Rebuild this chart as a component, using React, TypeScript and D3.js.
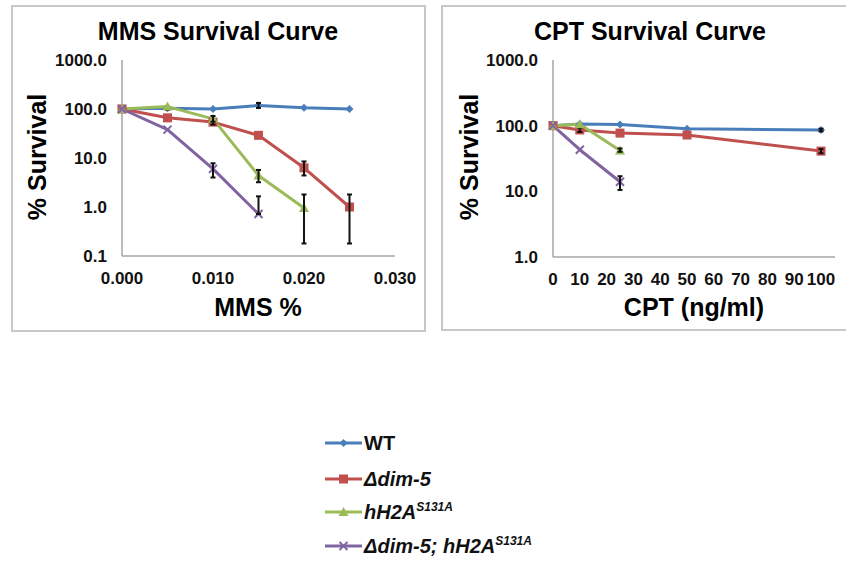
import React, { useEffect, useRef } from 'react';
import * as d3 from 'd3';

// MMS panel
const mmsDoses = [0, 0.005, 0.01, 0.015, 0.02, 0.025];
const mmsTicks = [0, 0.01, 0.02, 0.03];
const mmsWT = [100, 104, 100, 118, 106, 100];
const mmsDim5 = [100, 66, 54, 29, 6.3, 1.0];
const mmsH2A = [100, 112, 63, 4.4, 0.95];
const mmsDouble = [100, 38, 6.0, 0.72];
const mmsWTErr = [null, [96, 112], null, [105, 133], null, null];
const mmsDim5Err = [null, null, [48, 60], null, [4.4, 8.5], [0.18, 1.8]];
const mmsH2AErr = [null, null, [55, 72], [3.2, 5.7], [0.18, 1.8]];
const mmsDoubleErr = [null, null, [4.0, 7.8], [0.72, 1.65]];
const mmsYTicks = [0.1, 1, 10, 100, 1000];

// CPT panel
const cptDoses = [0, 10, 25, 50, 100];
const cptTicks = [0, 10, 20, 30, 40, 50, 60, 70, 80, 90, 100];
const cptWT = [100, 106, 104, 90, 86];
const cptDim5 = [100, 86, 77, 72, 41];
const cptH2A = [100, 105, 42];
const cptDouble = [100, 43, 14];
const cptWTErr = [null, null, null, null, [82, 90]];
const cptDim5Err = [null, [80, 92], null, null, [38, 44]];
const cptH2AErr = [null, null, [40, 45]];
const cptDoubleErr = [null, null, [10.5, 17]];
const cptYTicks = [1, 10, 100, 1000];

const seriesNames = ['WT', 'dim5', 'h2a', 'double'];
const colors = ['#4a7ebb', '#c0504d', '#9bbb59', '#8064a2'];
const markers = ['diamond', 'square', 'triangle', 'x'];

const FONT = '"Liberation Sans", Arial, sans-serif';

function drawMarker(g: any, kind: string, x: number, y: number, color: string) {
  if (kind === 'diamond') {
    g.append('path').attr('d', `M${x},${y - 4}L${x + 4},${y}L${x},${y + 4}L${x - 4},${y}Z`).attr('fill', color);
  } else if (kind === 'square') {
    g.append('rect').attr('x', x - 4.5).attr('y', y - 4.5).attr('width', 9).attr('height', 9).attr('fill', color);
  } else if (kind === 'triangle') {
    g.append('path').attr('d', `M${x},${y - 5}L${x + 5},${y + 4}L${x - 5},${y + 4}Z`).attr('fill', color);
  } else {
    g.append('path')
      .attr('d', `M${x - 4},${y - 4}L${x + 4},${y + 4}M${x - 4},${y + 4}L${x + 4},${y - 4}`)
      .attr('stroke', color).attr('stroke-width', 2);
  }
}

function drawPanel(svg: any, opts: any) {
  const { box, title, titleX, xLabel, xLabelX, yLabelX, x, y, xTicks, yTicks, xFmt, axisEnd, doses, series, errs } = opts;

  svg.append('rect')
    .attr('x', box[0]).attr('y', box[1]).attr('width', box[2]).attr('height', box[3])
    .attr('fill', 'white').attr('stroke', '#c8c8c8').attr('stroke-width', 2);

  svg.append('text')
    .attr('x', titleX).attr('y', 40)
    .attr('text-anchor', 'middle').attr('font-family', FONT).attr('font-weight', 'bold')
    .attr('font-size', 25).text(title);

  const [x0] = x.range();
  const yBottom = y.range()[0];
  const yTop = y.range()[1];

  // axes lines
  svg.append('line').attr('x1', x0).attr('x2', x0).attr('y1', yTop).attr('y2', yBottom)
    .attr('stroke', '#a6a6a6').attr('stroke-width', 1.5);
  svg.append('line').attr('x1', x0).attr('x2', axisEnd).attr('y1', yBottom).attr('y2', yBottom)
    .attr('stroke', '#a6a6a6').attr('stroke-width', 1.5);

  svg.selectAll(null).data(yTicks).enter().append('text')
    .attr('x', x0 - 15).attr('y', (d: number) => y(d) + 6)
    .attr('text-anchor', 'end').attr('font-family', FONT).attr('font-weight', 'bold')
    .attr('font-size', 17).attr('fill', '#111').text((d: number) => d.toFixed(1));

  svg.selectAll(null).data(xTicks).enter().append('text')
    .attr('x', (d: number) => x(d)).attr('y', yBottom + 28)
    .attr('text-anchor', 'middle').attr('font-family', FONT).attr('font-weight', 'bold')
    .attr('font-size', 17).attr('fill', '#111').text(xFmt);

  svg.append('text')
    .attr('x', xLabelX).attr('y', 316)
    .attr('text-anchor', 'middle').attr('font-family', FONT).attr('font-weight', 'bold')
    .attr('font-size', 25).text(xLabel);

  svg.append('text')
    .attr('transform', `translate(${yLabelX},157) rotate(-90)`)
    .attr('text-anchor', 'middle').attr('font-family', FONT).attr('font-weight', 'bold')
    .attr('font-size', 25).text('% Survival');

  const line = d3.line<any>().x((d) => x(d[0])).y((d) => y(d[1]));

  series.forEach((vals: number[], i: number) => {
    const pts = vals.map((v, j) => [doses[j], v]);
    svg.append('path').datum(pts).attr('d', line)
      .attr('fill', 'none').attr('stroke', colors[i]).attr('stroke-width', 3)
      .attr('stroke-linejoin', 'round');
  });

  series.forEach((vals: number[], i: number) => {
    const g = svg.append('g');
    vals.forEach((v, j) => drawMarker(g, markers[i], x(doses[j]), y(v), colors[i]));
    errs[i].forEach((e: number[] | null, j: number) => {
      if (!e) return;
      const px = x(doses[j]);
      g.append('line').attr('x1', px).attr('x2', px).attr('y1', y(e[0])).attr('y2', y(e[1]))
        .attr('stroke', '#111').attr('stroke-width', 2);
      [e[0], e[1]].forEach((ev) => {
        g.append('line').attr('x1', px - 2.5).attr('x2', px + 2.5).attr('y1', y(ev)).attr('y2', y(ev))
          .attr('stroke', '#111').attr('stroke-width', 2);
      });
    });
  });
}

export default function App() {
  const ref = useRef<SVGSVGElement>(null);

  useEffect(() => {
    const svg = d3.select(ref.current);
    svg.selectAll('*').remove();

    drawPanel(svg, {
      box: [12, 6, 413, 325],
      title: 'MMS Survival Curve',
      titleX: 218,
      xLabel: 'MMS %',
      xLabelX: 258,
      yLabelX: 46,
      x: d3.scaleLinear().domain([0, 0.03]).range([122, 395]),
      y: d3.scaleLog().domain([0.1, 1000]).range([256, 60]),
      xTicks: mmsTicks,
      yTicks: mmsYTicks,
      xFmt: (d: number) => d.toFixed(3),
      axisEnd: 395,
      doses: mmsDoses,
      series: [mmsWT, mmsDim5, mmsH2A, mmsDouble],
      errs: [mmsWTErr, mmsDim5Err, mmsH2AErr, mmsDoubleErr],
    });

    drawPanel(svg, {
      box: [442, 6, 420, 324],
      title: 'CPT Survival Curve',
      titleX: 650,
      xLabel: 'CPT (ng/ml)',
      xLabelX: 694,
      yLabelX: 478,
      x: d3.scaleLinear().domain([0, 100]).range([553, 821]),
      y: d3.scaleLog().domain([1, 1000]).range([257, 60]),
      xTicks: cptTicks,
      yTicks: cptYTicks,
      xFmt: (d: number) => String(d),
      axisEnd: 835,
      doses: cptDoses,
      series: [cptWT, cptDim5, cptH2A, cptDouble],
      errs: [cptWTErr, cptDim5Err, cptH2AErr, cptDoubleErr],
    });

    // legend
    const rows = [443, 479, 512, 546];
    const lg = svg.append('g');
    seriesNames.forEach((s, i) => {
      lg.append('line').attr('x1', 325).attr('x2', 362).attr('y1', rows[i]).attr('y2', rows[i])
        .attr('stroke', colors[i]).attr('stroke-width', 3);
      drawMarker(lg, markers[i], 343.5, rows[i], colors[i]);
      const t = lg.append('text').attr('x', 364).attr('y', rows[i] + 7)
        .attr('font-family', FONT).attr('font-weight', 'bold').attr('font-size', 20).attr('fill', '#111');
      if (i === 0) {
        t.text('WT');
      } else if (i === 1) {
        t.attr('font-style', 'italic').text('Δdim-5');
      } else {
        t.attr('font-style', 'italic');
        t.append('tspan').text(i === 2 ? 'hH2A' : 'Δdim-5; hH2A');
        t.append('tspan').attr('font-size', 12).attr('dy', -8).text('S131A');
      }
    });
  }, []);

  return (
    <svg ref={ref} width={846} height={561}
      style={{ position: 'absolute', left: 0, top: 0, background: 'white' }} />
  );
}
